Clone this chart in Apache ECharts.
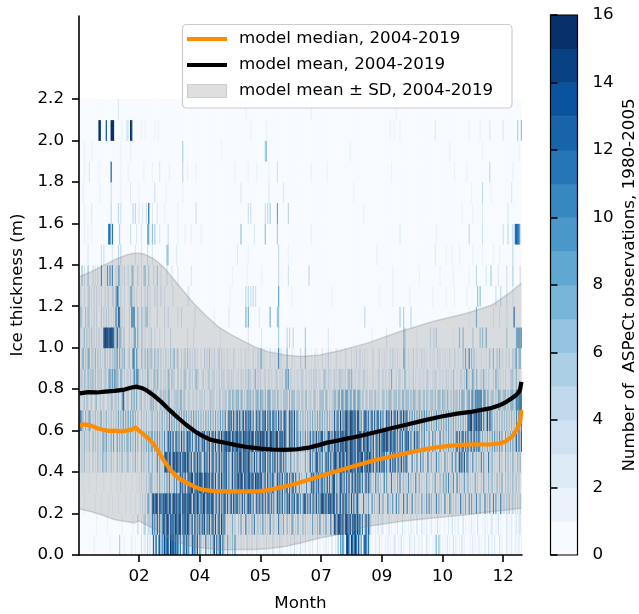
<!DOCTYPE html>
<html>
<head>
<meta charset="utf-8">
<script src="https://cdn.jsdelivr.net/npm/echarts@6/dist/echarts.min.js"></script>
<style>
  html, body { margin: 0; padding: 0; background: #fff; }
  #chart { width: 639px; height: 614px; }
</style>
</head>
<body>
<div id="chart"></div>
<script>
// ---- Axis ticks ----
const tickDays = [50, 100, 150, 200, 250, 300, 350];
const monthLabels = ['02', '04', '05', '07', '09', '10', '12'];
const yTickValues = [0, 0.2, 0.4, 0.6, 0.8, 1.0, 1.2, 1.4, 1.6, 1.8, 2.0, 2.2];
const colorBounds = [0, 1, 2, 3, 4, 5, 6, 7, 8, 9, 10, 11, 12, 13, 14, 15, 16];
const colorTicks = [0, 2, 4, 6, 8, 10, 12, 14, 16];
const binWidth = 0.1;

// ---- ASPeCt observation counts per day of year (one char per day, base 17: 0-9, a=10 ... g=16) ----
// one string per 0.1 m thickness bin, groups of 10 days separated by spaces
const obs00 =
  '0000000000 0010000000 0000010000 0005000100 0002001000 0301204030 3c0e08d2a6 e8dc4fbe9c 9d1b05e3c7 a04d7c2e09 ' +
  '5020b04070 7e0c39d1b4 2080306091 0102010030 1020003010 0010201002 2001030100 0100200301 0030102001 1020003010 ' +
  '0102010030 0206085a30 dfa2ec7gb5 e1907dc4b2 0100200301 0010201002 2001030100 0030102001 1020003010 0103606201 ' +
  '0102010030 2001030100 0010201002 0100200301 1020003010 0030102001 10201';
const obs01 =
  '0000000000 0000100000 0001000000 0000010000 0000100040 0204502431 b5a0e2c08d c7fe4dbc8g d9ef2cae8f d28b0f3a6c ' +
  '3c8e0b6d1a c3e08d2f6b 6030207040 0408020b03 3070a02504 0905030a02 5020b04070 0602085030 7010604020 2080306091 ' +
  '0408020b03 eb5gdc9e3d fc8e5dbg7e 9d1b05e3c7 3010203012 2001030100 1020003010 0102010030 0030102001 2001030100 ' +
  '0100200301 1020003010 0102010030 0010201002 2001030100 0030102001 20230';
const obs02 =
  '0000100000 0001000010 0000100100 0010000010 0010001000 2030406802 ce9fd3eb8d bgd6ec3fda e8dc4fbe9c dfa2ec7gb5 ' +
  'c7fe4dbc8g d28b0f3a6c c3e08d2f6b b5a0e2c08d 9d1b05e3c7 7e0c39d1b4 a04d7c2e09 3c8e0b6d1a e1907dc4b2 d28b0f3a6c ' +
  'fc8e5dbg7e c3e08d2f6b b5a0e2c08d 5020b04070 0905030a02 7010a04090 0a08020b03 9030a02504 2080309091 6030a07040 ' +
  '0a02085030 5020b04070 0908030a02 7010a04080 0a08020b03 3050602504 04050';
const obs03 =
  '0001000010 0000100000 1000001000 0100100010 0001000102 0302040356 4030607040 6080a04090 a04d7c2e09 d9ef2cae8f ' +
  'eb5gdc9e3d c3e08d2f6b 9d1b05e3c7 ce9fd3eb8d e8dc4fbe9c d28b0f3a6c a04d7c2e09 7e0c39d1b4 0905030a02 3c8e0b6d1a ' +
  'b5a0e2c08d e1907dc4b2 c3e08d2f6b 9d1b05e3c7 6030a07040 0a08020b03 3070a02504 0905030a02 6030207040 0408020603 ' +
  '7080a04090 0a05030802 6030207040 0408020603 5020604070 0405030602 40400';
const obs04 =
  '3040502030 0402050306 4060205030 0503060204 5020406030 0605030702 6030a07040 bgd6ec3fda fc8e5dbg7e c3e08d2f6b ' +
  'a04d7c2e09 d28b0f3a6c 9d1b05e3c7 c7fe4dbc8g b5a0e2c08d 3c8e0b6d1a 7e0c39d1b4 9030a02504 6030207040 e1907dc4b2 ' +
  'a04d7c2e09 dfa2ec7gb5 eb5gdc9e3d d9ef2cae8f c3e08d2f6b 9d1b05e3c7 d28b0f3a6c 7010a04090 0a08020b03 6030a07040 ' +
  '0905030a02 a04d7c2e09 9030a02504 0a08020b03 6030207040 0605030702 06060';
const obs05 =
  '5040603050 0604050306 7080407080 0806070506 6070507060 0706070807 7080908070 a04d7c2e09 b5a0e2c08d 9d1b05e3c7 ' +
  '3c8e0b6d1a c3e08d2f6b ce9fd3eb8d e8dc4fbe9c d9ef2cae8f bgd6ec3fda c7fe4dbc8g a04d7c2e09 8090709080 d28b0f3a6c ' +
  'e1907dc4b2 fc8e5dbg7e eb5gdc9e3d dfa2ec7gb5 c3e08d2f6b ce9fd3eb8d b5a0e2c08d 9d1b05e3c7 7080a04090 0a08020b03 ' +
  '7060806070 7e0c39d1b4 d28b0f3a6c 6070507060 8090709080 0806070806 c0c0c';
const obs06 =
  '4c54060475 0405040560 4060405040 5070608070 8070806050 0504050304 5040605070 5070a08070 7080708070 6070807060 ' +
  '6050706070 6070608080 a04d7c2e09 c3e08d2f6b 9d1b05e3c7 3c8e0b6d1a b5a0e2c08d a04d7c2e09 6050605060 6070607080 ' +
  '7060706050 d28b0f3a6c eb5gdc9e3d e1907dc4b2 7e0c39d1b4 a04d7c2e09 c3e08d2f6b 9080908080 8090a09070 7060907070 ' +
  '7080806070 6050607050 d9ef2cae8f 9d1b05e3c7 6050605060 5060506050 a0b0a';
const obs07 =
  '3202405202 4004500402 3002305403 405006d403 4007070702 3502403046 4605203605 3507603043 4506605302 3202303203 ' +
  '2304020343 3203043032 4305606506 5606504065 4606046707 5606067604 4505404045 4506064503 3404404502 3204502054 ' +
  '5406403024 5606708807 8707608706 7604304304 3404504202 5405065405 4506406606 4506065404 5404505404 4506046506 ' +
  '4506305053 4506076504 6807a0a8a9 9a08906504 5405076505 5606066705 a9aba';
const obs08 =
  '0340530624 3605043240 2430682839 5630740302 30402a39a2 2040306503 0460630402 2306405230 0502304520 2403026320 ' +
  '0230204302 2302040323 0123031201 1203120405 2301360313 1023013021 0132021301 8380310201 2013301202 1203130120 ' +
  '0352031201 3120432213 0361620301 2201330201 0120103201 3021030710 1203301062 0120130201 1202103301 0213201202 ' +
  '1031202051 020133031a 1302830620 2317030310 1307231202 0301034502 60201';
const obs09 =
  '2047050760 3406050402 0603050426 3807053600 2400a90830 0530606235 2060340402 0402050360 2500302405 0302040200 ' +
  '2004030502 0300240302 0120100310 0102001201 1003010405 6020100301 0201a03010 1600020100 0031006010 0100201000 ' +
  '2001030100 0120010002 1000201030 0301020100 0120001201 0201002031 1020100760 0201030120 1030201002 0120031201 ' +
  '0201030103 1020105080 1a06050201 0201020150 1600506021 0120300506 70570';
const obs10 =
  '0302505040 5030304020 dfeecfedc5 2d36603300 0302077070 0430200204 0020002000 2000030000 0000000002 0000200000 ' +
  '0000000000 0000001000 0000000000 0000000002 0000000000 2000000000 0000500000 0404004000 0000005000 0000000000 ' +
  '0000020000 0000000000 0000000000 0000000000 0100000000 0002000000 0000000550 0000000010 0000000003 0030400000 ' +
  '0000000010 0006006000 0000400000 5060070000 0000000000 0050000000 78878';
const obs11 =
  '0620050530 2030300040 3040402030 b0cb030200 030a8a0060 0430455020 0000300000 3003000000 0200300000 0000020000 ' +
  '0000000000 0100000000 0002000000 0000000707 0000000020 0000000700 0006600000 0000000000 0000000000 0000000000 ' +
  '0000000000 0000000000 0000000000 0000040000 0000000000 0000000000 0000500500 0004000000 0000000000 0000000000 ' +
  '0000000000 0000000000 0100000700 0000000000 0200002000 00200000c0 00000';
const obs12 =
  '0300200340 2030302030 0302300430 6b70300200 0267030200 0300304020 0030300300 2000000200 0000000001 2000000000 ' +
  '0000000000 0000000000 0000100000 0000000404 0304030000 0000000000 0000800000 0000010000 0000000000 0000000000 ' +
  '0000000010 0000000000 0000000000 0000000000 0000000100 0000000010 0000000000 0010000000 0000000000 0100000000 ' +
  '0010000001 0000000001 0000000060 6000000000 0003000400 0030000200 00000';
const obs13 =
  '0060300600 03020300a0 0209090a00 3076020300 3005600040 0204600500 0300500200 0030002000 0200000000 0020000000 ' +
  '0000000000 0000000000 0000001000 0000000010 0000000000 1000000000 0000400000 0030000000 0000000004 0000000000 ' +
  '0000000000 0000000000 0000000000 0000000000 0000000000 0000000010 0000000000 0000000000 1000000000 0000000100 ' +
  '0000000010 0000000000 0100000400 0000020005 0000020000 0030000500 00030';
const obs14 =
  '0000000200 0000000030 3000000200 0040400000 0000002000 0200003000 2000000000 0065000000 2000000000 0000000000 ' +
  '0000000000 0000000000 0000000000 2000000001 0000000000 0000000000 0000400000 0010000000 0000000000 0000000000 ' +
  '0000000000 0000000000 0000000000 0000000000 0000010000 0000000000 0000000000 0000000000 0000000000 0002000000 ' +
  '0010000100 0001000000 0000100000 0010000000 0100001000 0000000400 00000';
const obs15 =
  '0000100100 1000000000 0000bc0b00 0005000000 0030000200 0200007800 6050002000 0003000000 0100000100 0010000000 ' +
  '1000000000 0000000000 0000000000 0006000000 0000200000 0006000000 0005000000 0000000000 0000000000 0100000000 ' +
  '0000000000 0000000000 0000000000 0000000000 0000000000 0000000000 0000200000 0000000000 0000000000 0000100000 ' +
  '0000000000 0000000000 0400000000 0030000000 0000000003 000400040b cbb40';
const obs16 =
  '0000100000 2000000000 0000004000 0040300000 0000404002 0020030c00 2000200000 1000000000 0100000000 0000003000 ' +
  '0000000000 0000000000 0000000000 0000000003 0300000000 0003040500 0008000000 0040000000 0000000000 0000000000 ' +
  '0000000000 0000000000 0000000000 0000100000 0000000000 0000000000 0000000000 0000000000 0000000000 0000000000 ' +
  '0000000000 0000010000 0000100000 0020000000 0000000000 0002000000 00000';
const obs17 =
  '0001000000 0000000100 0000003000 0000100000 0020000001 0000000000 0030000000 0100000000 0000010000 0000000000 ' +
  '0000000000 0000000000 0000000000 0002000000 0000000000 0000002000 0000000020 0000000000 0000000000 0000000000 ' +
  '0000000000 0000000000 0000001000 0000000000 0000000000 0000000000 0000000000 0000000000 0000000000 0000000000 ' +
  '0000000000 0000000000 0001000000 0040000001 0000000000 0000002000 00000';
const obs18 =
  '0000100020 0000001000 000000c000 0000100000 1000000000 0001000000 1000002000 0000100000 0000040001 0000001000 ' +
  '0000000000 0000000000 0000000010 0000000001 0000001000 0000001000 0003000000 0000000000 0000000000 0100000000 ' +
  '0000100000 0000000000 0000000000 0000000000 0000000000 0000000100 0000000000 0000000000 0000000000 0000000000 ' +
  '0000000001 0000000001 0000000000 0000000040 0000000000 0000000100 00000';
const obs19 =
  '0000100000 1000000000 0000000000 0000100000 0010000000 0000000000 0000000000 0000000000 0000050000 0000000000 ' +
  '0000000000 0000000100 0000000000 0000000000 0000000000 0005600000 0000000000 0000000000 0000000000 0000000000 ' +
  '0000000000 0000000000 0001000000 0000000000 0000000000 0000000000 0000000000 0000000000 0000000000 0000000000 ' +
  '0000010000 0000000000 0000000000 0010000000 0000000000 0000000000 00100';
const obs20 =
  '0000000000 000000ff00 00d000gfg0 0000010003 20fe000000 0100100000 0010010000 0000000000 0000000000 0000000000 ' +
  '0000000000 0000000000 0000000000 0000000000 0100000000 0000100000 0000000000 0000000000 0000000000 0000000000 ' +
  '0000000000 0000000000 0000000000 0000000000 0000000000 0000001001 0000100000 0000000000 0000000000 0002000000 ' +
  '0000000000 0000000000 0100000000 1000000020 0000000002 0000000000 05006';
const obs21 =
  '0000000000 0000000000 0000000000 0020000000 0000000000 0000000000 0000000000 0000000000 0000000000 0000000000 ' +
  '0000000000 0000000000 0000000000 0000000100 0000000000 0000000000 0000000000 0000000000 0000000000 0100000000 ' +
  '0000000000 0000000000 0000000000 0000000000 0000000000 0000000000 0100000000 0000000000 0000000000 0000000000 ' +
  '0000000000 0000000000 0000000000 0000000000 0000000000 0000000000 00000';
const obsRows = [obs00, obs01, obs02, obs03, obs04, obs05, obs06, obs07, obs08, obs09, obs10,
                 obs11, obs12, obs13, obs14, obs15, obs16, obs17, obs18, obs19, obs20, obs21];

// ---- Model ice thickness, 2004-2019 (m) ----
const medianDays = [1, 5, 10, 16, 24, 30, 35, 40, 44, 47, 50, 54, 58, 62, 66, 70, 74, 79, 84, 90,
  96, 102, 110, 120, 135, 148, 155, 162, 176, 190, 203, 217, 231, 244, 257, 270, 284, 298, 312, 325,
  339, 347, 352, 357, 360, 362, 364, 365];
const medianIce = [0.625, 0.63, 0.625, 0.61, 0.599, 0.6, 0.596, 0.6, 0.605, 0.615, 0.6, 0.58, 0.56, 0.535, 0.5, 0.46, 0.425, 0.39, 0.365, 0.347,
  0.328, 0.315, 0.309, 0.307, 0.307, 0.307, 0.312, 0.32, 0.339, 0.363, 0.387, 0.411, 0.435, 0.457, 0.474, 0.491, 0.508, 0.522, 0.53, 0.534,
  0.533, 0.538, 0.548, 0.57, 0.592, 0.615, 0.645, 0.70];
const meanDays = [1, 8, 15, 22, 30, 38, 44, 48, 52, 56, 62, 68, 75, 82, 89, 96, 103, 109, 116, 122,
  130, 140, 150, 160, 170, 180, 190, 198, 205, 212, 220, 231, 243, 257, 270, 284, 298, 312, 325, 339,
  347, 353, 358, 361, 363, 364, 365];
const meanIce = [0.78, 0.786, 0.784, 0.788, 0.792, 0.798, 0.808, 0.812, 0.806, 0.795, 0.77, 0.74, 0.70, 0.662, 0.627, 0.596, 0.572, 0.556, 0.547, 0.54,
  0.53, 0.52, 0.513, 0.509, 0.507, 0.51, 0.518, 0.53, 0.542, 0.55, 0.56, 0.573, 0.59, 0.61, 0.628, 0.648, 0.667, 0.682, 0.692, 0.707,
  0.722, 0.74, 0.76, 0.773, 0.787, 0.80, 0.835];
const bandDays = [1, 10, 19, 30, 40, 46, 50, 54, 62, 70, 79, 87, 95, 105, 115, 125, 134, 145, 156, 170,
  183, 199, 215, 238, 265, 292, 320, 341, 355, 365];
const bandHigh = [1.343, 1.365, 1.391, 1.425, 1.448, 1.455, 1.455, 1.452, 1.43, 1.39, 1.327, 1.27, 1.214, 1.155, 1.102, 1.065, 1.038, 1.005, 0.981, 0.965,
  0.957, 0.965, 0.985, 1.022, 1.078, 1.126, 1.166, 1.206, 1.263, 1.311];
const bandLow = [0.222, 0.21, 0.194, 0.17, 0.16, 0.155, 0.165, 0.152, 0.128, 0.1, 0.068, 0.052, 0.04, 0.032, 0.027, 0.025, 0.026, 0.026, 0.03, 0.041,
  0.058, 0.082, 0.1, 0.138, 0.162, 0.178, 0.194, 0.21, 0.218, 0.227];

const legendLabels = ['model median, 2004-2019', 'model mean, 2004-2019', 'model mean \u00b1 SD, 2004-2019'];
const yTitle = 'Ice thickness (m)';
const xTitle = 'Month';
const cbarTitle = 'Number of  ASPeCt observations, 1980-2005';

// ---- Blues colour ramp, 16 discrete levels ----
const bluesAnchors = [[247,251,255],[222,235,247],[198,219,239],[158,202,225],[107,174,214],
                      [66,146,198],[33,113,181],[8,81,156],[8,48,107]];
function bluesAt(t) {
  const p = t * 8, i = Math.min(7, Math.floor(p)), f = p - i;
  const a = bluesAnchors[i], b = bluesAnchors[i + 1];
  const c = a.map((v, k) => Math.round(v + (b[k] - v) * f));
  return 'rgb(' + c.join(',') + ')';
}
const nLevels = colorBounds.length - 1;
const levelColors = colorBounds.slice(0, nLevels).map((_, i) => bluesAt(i / (nLevels - 1)));
const pieces = levelColors.map((c, i) =>
  i < nLevels - 1 ? { gte: colorBounds[i], lt: colorBounds[i + 1], color: c } : { gte: colorBounds[i], color: c });

// ---- Build heatmap cells ----
const cells = [];
obsRows.forEach((row, b) => {
  const s = row.replace(/\s+/g, '');
  for (let d = 1; d <= 365; d++) {
    const ch = s.charAt(d - 1) || '0';
    cells.push([d, b, parseInt(ch, 17)]);
  }
});
const cbarCells = colorBounds.slice(0, nLevels).map(v => [0, v, v]);

const FONT = 'DejaVu Sans';
const FS = 16.7;
const chart = echarts.init(document.getElementById('chart'), null, { renderer: 'canvas' });

const axisLineStyle = { color: '#000', width: 1.6 };

chart.setOption({
  animation: false,
  textStyle: { fontFamily: FONT },
  grid: [
    { left: 79, top: 16, width: 443, height: 539 },
    { left: 550.5, top: 15, width: 27, height: 540 }
  ],
  xAxis: [
    {
      type: 'value', gridIndex: 0, min: 0.5, max: 365.5, z: 5,
      axisLine: { show: true, onZero: false, lineStyle: axisLineStyle },
      axisTick: { show: true, length: 7, lineStyle: axisLineStyle, customValues: tickDays },
      axisLabel: {
        customValues: tickDays, color: '#000', fontSize: FS, fontFamily: FONT, margin: 13,
        formatter: v => monthLabels[tickDays.indexOf(v)] || ''
      },
      splitLine: { show: false }
    },
    { type: 'value', gridIndex: 1, min: 0, max: 1, show: false }
  ],
  yAxis: [
    {
      type: 'value', gridIndex: 0, min: 0, max: 2.6, z: 5,
      axisLine: { show: true, onZero: false, lineStyle: axisLineStyle },
      axisTick: { show: true, length: 7, lineStyle: axisLineStyle, customValues: yTickValues },
      axisLabel: {
        customValues: yTickValues, color: '#000', fontSize: FS, fontFamily: FONT, margin: 15,
        formatter: v => v.toFixed(1)
      },
      splitLine: { show: false }
    },
    {
      type: 'value', gridIndex: 1, position: 'right', min: 0, max: 16, z: 5,
      axisLine: { show: false },
      axisTick: { show: true, length: 7, lineStyle: axisLineStyle, customValues: colorTicks },
      axisLabel: { customValues: colorTicks, color: '#000', fontSize: FS, fontFamily: FONT, margin: 15 },
      splitLine: { show: false }
    }
  ],
  visualMap: {
    type: 'piecewise', show: false, dimension: 2, seriesIndex: [0, 4], pieces: pieces
  },
  series: [
    {
      // observation counts, one cell per day and thickness bin
      type: 'custom', xAxisIndex: 0, yAxisIndex: 0, z: 1, silent: true,
      progressive: 0, data: cells,
      renderItem: (params, api) => {
        const d = api.value(0), b = api.value(1);
        const a = api.coord([d - 0.5, (b + 1) * binWidth]);
        const c = api.coord([d + 0.5, b * binWidth]);
        return {
          type: 'rect',
          shape: { x: a[0], y: a[1], width: c[0] - a[0] + (d < 365 ? 0.45 : 0), height: c[1] - a[1] + (b > 0 ? 0.45 : 0) },
          style: { fill: api.visual('color') }
        };
      }
    },
    {
      // mean +/- SD band
      type: 'custom', xAxisIndex: 0, yAxisIndex: 0, z: 3, silent: true,
      data: bandDays.map((d, i) => [d, bandLow[i], bandHigh[i]]),
      renderItem: (params, api) => {
        if (params.dataIndex !== 0) return null;
        const top = bandDays.map((d, i) => api.coord([d, bandHigh[i]]));
        const bot = bandDays.map((d, i) => api.coord([d, bandLow[i]]));
        const poly = top.concat(bot.slice().reverse());
        return {
          type: 'group',
          children: [
            { type: 'polygon', shape: { points: poly }, style: { fill: 'rgba(128,128,128,0.25)' } },
            { type: 'polyline', shape: { points: top }, style: { stroke: 'rgba(128,128,128,0.3)', lineWidth: 1.5, fill: null } },
            { type: 'polyline', shape: { points: bot }, style: { stroke: 'rgba(128,128,128,0.3)', lineWidth: 1.5, fill: null } }
          ]
        };
      }
    },
    {
      name: legendLabels[0], type: 'line', xAxisIndex: 0, yAxisIndex: 0, z: 4,
      data: medianDays.map((d, i) => [d, medianIce[i]]),
      showSymbol: false, symbol: 'none', silent: true,
      lineStyle: { color: '#ff8c00', width: 4.2, join: 'round' }
    },
    {
      name: legendLabels[1], type: 'line', xAxisIndex: 0, yAxisIndex: 0, z: 4,
      data: meanDays.map((d, i) => [d, meanIce[i]]),
      showSymbol: false, symbol: 'none', silent: true,
      lineStyle: { color: '#000', width: 4.2, join: 'round' }
    },
    {
      // colour bar blocks
      type: 'custom', xAxisIndex: 1, yAxisIndex: 1, z: 1, silent: true,
      data: cbarCells,
      renderItem: (params, api) => {
        const v = api.value(1);
        const a = api.coord([0, v + 1]);
        const c = api.coord([1, v]);
        return {
          type: 'rect',
          shape: { x: a[0], y: a[1], width: c[0] - a[0], height: c[1] - a[1] + (v > 0 ? 0.4 : 0) },
          style: { fill: api.visual('color') }
        };
      }
    }
  ],
  graphic: [
    // colour bar outline
    { type: 'rect', z: 50, shape: { x: 550.5, y: 15, width: 27, height: 540 },
      style: { fill: null, stroke: '#000', lineWidth: 1.2 } },
    // legend box
    { type: 'rect', z: 100, shape: { x: 182.5, y: 24.5, width: 329.5, height: 83.5, r: 4 },
      style: { fill: 'rgba(255,255,255,0.8)', stroke: '#cccccc', lineWidth: 1.2 } },
    { type: 'line', z: 101, shape: { x1: 187, y1: 39, x2: 227, y2: 39 },
      style: { stroke: '#ff8c00', lineWidth: 4.2 } },
    { type: 'line', z: 101, shape: { x1: 187, y1: 65, x2: 227, y2: 65 },
      style: { stroke: '#000', lineWidth: 4.2 } },
    { type: 'rect', z: 101, shape: { x: 187.5, y: 84.5, width: 39, height: 13 },
      style: { fill: 'rgba(128,128,128,0.25)', stroke: 'rgba(128,128,128,0.3)', lineWidth: 1.2 } },
    { type: 'text', z: 101, x: 239, y: 39,
      style: { text: legendLabels[0], fontSize: FS, fontFamily: FONT, fill: '#000', verticalAlign: 'middle', align: 'left' } },
    { type: 'text', z: 101, x: 239, y: 65,
      style: { text: legendLabels[1], fontSize: FS, fontFamily: FONT, fill: '#000', verticalAlign: 'middle', align: 'left' } },
    { type: 'text', z: 101, x: 239, y: 91,
      style: { text: legendLabels[2], fontSize: FS, fontFamily: FONT, fill: '#000', verticalAlign: 'middle', align: 'left' } },
    // axis titles
    { type: 'text', z: 101, x: 17.5, y: 285, rotation: Math.PI / 2,
      style: { text: yTitle, fontSize: FS, fontFamily: FONT, fill: '#000', verticalAlign: 'middle', align: 'center' } },
    { type: 'text', z: 101, x: 300.5, y: 604,
      style: { text: xTitle, fontSize: FS, fontFamily: FONT, fill: '#000', verticalAlign: 'middle', align: 'center' } },
    { type: 'text', z: 101, x: 629.5, y: 285, rotation: Math.PI / 2,
      style: { text: cbarTitle, fontSize: FS, fontFamily: FONT, fill: '#000', verticalAlign: 'middle', align: 'center' } }
  ]
});
</script>
</body>
</html>
